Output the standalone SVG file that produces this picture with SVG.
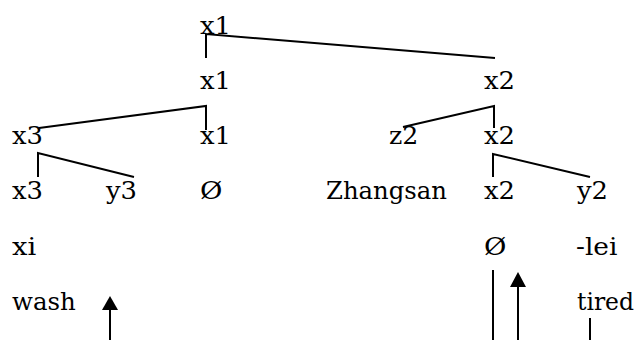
<svg xmlns="http://www.w3.org/2000/svg" width="638" height="340" viewBox="0 0 638 340">
<style>
.t{font-family:'DejaVu Serif','Liberation Serif',serif;font-size:25px;fill:#000}
.e{stroke:#000;stroke-width:2;fill:none}
</style>
<rect width="638" height="340" fill="#fff"/>
<g id="connectors">
<polyline class="e" points="206,58 206,34 495,58"/>
<polyline class="e" points="206,130 206,106 39,128"/>
<polyline class="e" points="403,127 494,106 494,128"/>
<polyline class="e" points="38,177 38,153 134,177"/>
<polyline class="e" points="493,177 493,154 590,177"/>
<line class="e" x1="110" y1="340" x2="110" y2="309"/>
<path d="M110,296 L102,310 L118,310 Z" fill="#000"/>
<line class="e" x1="493" y1="270" x2="493" y2="340"/>
<line class="e" x1="518" y1="340" x2="518" y2="286"/>
<path d="M518,272 L510,287 L526,287 Z" fill="#000"/>
<line class="e" x1="590" y1="318" x2="590" y2="340"/>
</g>
<g class="t">
<g id="n_x1_top"><text x="200" y="34" textLength="31" lengthAdjust="spacingAndGlyphs">x1</text></g>
<g id="n_x1_r2"><text x="200" y="89" textLength="31" lengthAdjust="spacingAndGlyphs">x1</text></g>
<g id="n_x2_r2"><text x="484" y="89" textLength="31" lengthAdjust="spacingAndGlyphs">x2</text></g>
<g id="n_x3_r3"><text x="12" y="144" textLength="31" lengthAdjust="spacingAndGlyphs">x3</text></g>
<g id="n_x1_r3"><text x="200" y="144" textLength="31" lengthAdjust="spacingAndGlyphs">x1</text></g>
<g id="n_z2_r3"><text x="389" y="144" textLength="29.3" lengthAdjust="spacingAndGlyphs">z2</text></g>
<g id="n_x2_r3"><text x="484" y="144" textLength="31" lengthAdjust="spacingAndGlyphs">x2</text></g>
<g id="n_x3_r4"><text x="12" y="199" textLength="31" lengthAdjust="spacingAndGlyphs">x3</text></g>
<g id="n_y3_r4"><text x="106" y="199" textLength="31" lengthAdjust="spacingAndGlyphs">y3</text></g>
<g id="n_empty_r4"><text x="200" y="199" textLength="22.4" lengthAdjust="spacingAndGlyphs">Ø</text></g>
<g id="n_zhangsan"><text x="326" y="199" textLength="121" lengthAdjust="spacingAndGlyphs">Zhangsan</text></g>
<g id="n_x2_r4"><text x="484" y="199" textLength="31" lengthAdjust="spacingAndGlyphs">x2</text></g>
<g id="n_y2_r4"><text x="577" y="199" textLength="31" lengthAdjust="spacingAndGlyphs">y2</text></g>
<g id="n_xi"><text x="12" y="255" textLength="24.2" lengthAdjust="spacingAndGlyphs">xi</text></g>
<g id="n_empty_r5"><text x="484" y="255" textLength="22.4" lengthAdjust="spacingAndGlyphs">Ø</text></g>
<g id="n_lei"><text x="576" y="255" textLength="41.4" lengthAdjust="spacingAndGlyphs">-lei</text></g>
<g id="n_wash"><text x="12" y="310" textLength="63.8" lengthAdjust="spacingAndGlyphs">wash</text></g>
<g id="n_tired"><text x="577" y="310" textLength="57" lengthAdjust="spacingAndGlyphs">tired</text></g>
</g>
</svg>
